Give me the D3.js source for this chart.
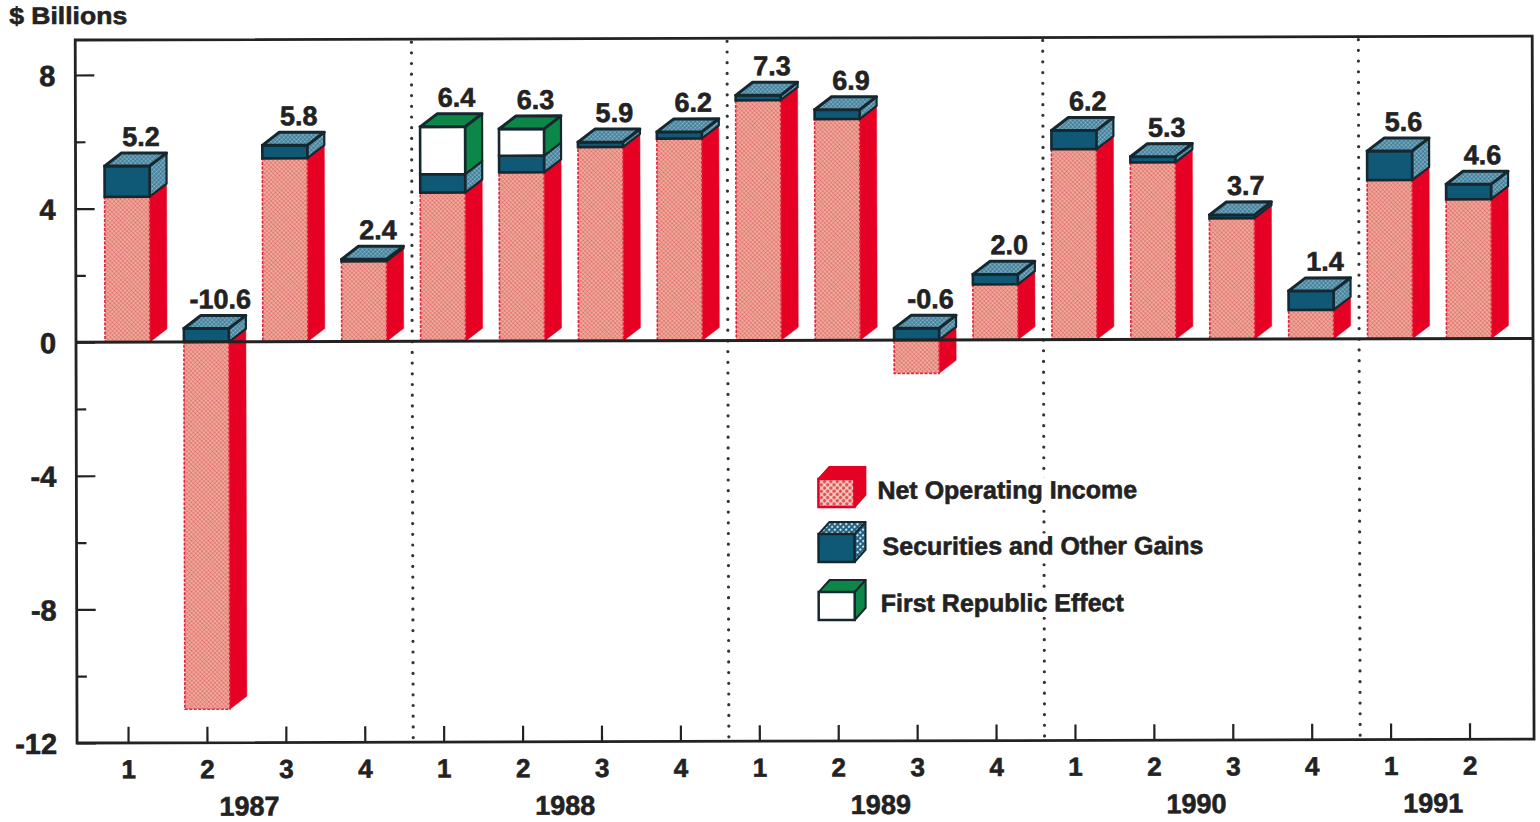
<!DOCTYPE html>
<html lang="en">
<head>
<meta charset="UTF-8">
<title>Net Income by Quarter</title>
<script src="https://d3js.org/d3.v7.min.js"></script>
<style>
    html, body { margin: 0; padding: 0; background: #fff; }
    svg { display: block; }
    text { font-family: "Liberation Sans", Arial, sans-serif; font-weight: bold; fill: #222; stroke: #222; stroke-width: 0.6px; }
    .tick text { font-family: "Liberation Sans", Arial, sans-serif; font-weight: bold; fill: #222; stroke: #222; stroke-width: 0.6px; }
    .tick line { stroke: #222; stroke-width: 2.2; }
    .legend-label { font-size: 25px; }
</style>
</head>
<body>
<div id="chart"></div>
<script>
// Values ($ billions)
const quarters = ["1987 1","1987 2","1987 3","1987 4","1988 1","1988 2","1988 3","1988 4","1989 1",
                  "1989 2","1989 3","1989 4","1990 1","1990 2","1990 3","1990 4","1991 1","1991 2"];
const netIncome     = [4.35,-11.0,5.49,2.4,4.45,5.05,5.8,6.05,7.19,6.62,-1.0,1.66,5.7,5.3,3.62,0.87,4.75,4.17];
const securities    = [0.92,0.4,0.39,0.06,0.55,0.5,0.15,0.2,0.15,0.28,0.35,0.3,0.56,0.17,0.1,0.57,0.87,0.45];
const firstRepublic = [0,0,0,0,1.42,0.8,0,0,0,0,0,0,0,0,0,0,0,0];
const totalLabels   = ["5.2","-10.6","5.8","2.4","6.4","6.3","5.9","6.2","7.3","6.9","-0.6","2.0","6.2","5.3","3.7","1.4","5.6","4.6"];
const years = ["1987","1988","1989","1990","1991"];
const yMajorTicks = [8,4,0,-4,-8,-12];
const yMinorTicks = [6,2,-2,-6,-10];
const legendLabels = ["Net Operating Income","Securities and Other Gains","First Republic Effect"];

const width = 1540, height = 822;
const frame = {left: 76, right: 1533, top: 40, bottom: 743};
const barWidth = 45, depthX = 17, depthY = 13;

const svg = d3.select("#chart").append("svg")
    .attr("width", width)
    .attr("height", height);

// Dither fills
const defs = svg.append("defs");
function dither(id, base, dot, size, r) {
    const p = defs.append("pattern")
        .attr("id", id)
        .attr("width", size).attr("height", size)
        .attr("patternUnits", "userSpaceOnUse")
        .attr("patternTransform", "rotate(45)");
    p.append("rect").attr("width", size).attr("height", size).attr("fill", base);
    p.append("circle").attr("cx", size / 2).attr("cy", size / 2).attr("r", r).attr("fill", dot);
}
dither("pink", "#f0b49a", "#df5f70", 3, 1.1);
dither("teal", "#3d7d98", "#9cc0d0", 3, 0.95);
dither("pinkLegend", "#f8d0c0", "#e0505c", 4.5, 1.7);
dither("tealLegend", "#1d5f80", "#d4e4ec", 4, 1.2);

const styles = {
    net:    {front: "url(#pink)", side: "#e60023", top: "#e60023", frontStroke: "#e8203a", edge: "#e60023"},
    sec:    {front: "#0f5876", side: "url(#teal)", top: "url(#teal)", frontStroke: "#16282f", edge: "#16282f"},
    first:  {front: "#ffffff", side: "#0c8748", top: "#0c8748", frontStroke: "#16282f", edge: "#16282f"}
};
const keys = ["net", "sec", "first"];

// The scan sits a touch crooked, so the whole chart is turned slightly
const g = svg.append("g").attr("transform", `rotate(-0.15 ${frame.left} 342)`);

const x = d3.scalePoint().domain(quarters).range([127, 1468.5]);
const y = d3.scaleLinear().domain([-12, 8]).range([frame.bottom, 75]);

const table = quarters.map((q, i) => ({quarter: q, net: netIncome[i], sec: securities[i], first: firstRepublic[i]}));
const series = d3.stack().keys(keys).offset(d3.stackOffsetDiverging)(table);

// Year dividers
const dividers = years.slice(1).map(yr => {
    const a = quarters.indexOf(yr + " 1");
    return (x(quarters[a - 1]) + x(quarters[a])) / 2 + 9;
});
g.selectAll(".divider").data(dividers).join("line")
    .attr("class", "divider")
    .attr("x1", d => d).attr("x2", d => d)
    .attr("y1", frame.top + 3).attr("y2", frame.bottom)
    .attr("stroke", "#333")
    .attr("stroke-width", 3.2)
    .attr("stroke-linecap", "round")
    .attr("stroke-dasharray", "0 10.7");

// Bars
const barG = g.selectAll(".bar").data(quarters).join("g").attr("class", "bar");
barG.each(function(q, i) {
    const bar = d3.select(this);
    const x0 = x(q) - 22, x1 = x0 + barWidth;
    const segs = series.map(s => ({key: s.key, y0: s[i][0], y1: s[i][1]}))
        .filter(s => s.y1 !== s.y0);
    segs.forEach(s => {
        const st = styles[s.key];
        const top = y(s.y1), bot = y(s.y0);
        bar.append("polygon")
            .attr("points", [[x1, top], [x1 + depthX, top - depthY], [x1 + depthX, bot - depthY], [x1, bot]].join(" "))
            .attr("fill", st.side)
            .attr("stroke", st.edge)
            .attr("stroke-width", s.key === "net" ? 0.5 : 2.2)
            .attr("stroke-linejoin", "round");
        bar.append("rect")
            .attr("x", x0).attr("y", top)
            .attr("width", barWidth).attr("height", bot - top)
            .attr("fill", st.front)
            .attr("stroke", st.frontStroke)
            .attr("stroke-width", s.key === "net" ? 1.6 : 2.6)
            .attr("stroke-dasharray", s.key === "net" ? "3 1.5" : null);
    });
    // top face belongs to the highest segment
    const high = segs.reduce((a, b) => (b.y1 > a.y1 ? b : a));
    const st = styles[high.key];
    const t = y(high.y1);
    bar.append("polygon")
        .attr("points", [[x0, t], [x0 + depthX, t - depthY], [x1 + depthX, t - depthY], [x1, t]].join(" "))
        .attr("fill", st.top)
        .attr("stroke", st.edge)
        .attr("stroke-width", 3)
        .attr("stroke-linejoin", "round");
    bar.append("text")
        .attr("x", x(q) + 14.5)
        .attr("y", t - depthY - 7)
        .attr("text-anchor", "middle")
        .attr("font-size", 27)
        .text(totalLabels[i]);
});

// Frame
g.append("rect")
    .attr("x", frame.left).attr("y", frame.top)
    .attr("width", frame.right - frame.left).attr("height", frame.bottom - frame.top)
    .attr("fill", "none")
    .attr("stroke", "#222")
    .attr("stroke-width", 2.8);

// Zero line
g.append("line")
    .attr("x1", frame.left).attr("x2", frame.right)
    .attr("y1", y(0)).attr("y2", y(0))
    .attr("stroke", "#222")
    .attr("stroke-width", 3);

// Axes
const yAxisMajor = d3.axisLeft(y).tickValues(yMajorTicks).tickSize(-19).tickPadding(20).tickFormat(d => String(d));
const yAxis = g.append("g").attr("transform", `translate(${frame.left},0)`).call(yAxisMajor);
yAxis.select(".domain").remove();
yAxis.selectAll("text").style("font-size", "29px").attr("dy", "0.36em");

const yAxisMinor = d3.axisLeft(y).tickValues(yMinorTicks).tickSize(-10).tickFormat("");
const yMinor = g.append("g").attr("transform", `translate(${frame.left},0)`).call(yAxisMinor);
yMinor.select(".domain").remove();

const xAxisBottom = d3.axisBottom(x).tickSize(-16).tickPadding(17).tickFormat(d => d.slice(-1));
const xAxis = g.append("g").attr("transform", `translate(0,${frame.bottom})`).call(xAxisBottom);
xAxis.select(".domain").remove();
xAxis.selectAll("text").style("font-size", "26px");

// Year labels, centred under their quarters
g.selectAll(".year").data(years).join("text")
    .attr("class", "year")
    .attr("x", yr => d3.mean(quarters.filter(q => q.startsWith(yr)), q => x(q)) + 3)
    .attr("y", 816)
    .attr("text-anchor", "middle")
    .attr("font-size", 27)
    .text(d => d);

g.append("text")
    .attr("x", 10).attr("y", 24)
    .attr("font-size", 24)
    .attr("textLength", 118)
    .attr("lengthAdjust", "spacingAndGlyphs")
    .text("$ Billions");

// Legend
const legendStyles = [
    {front: "url(#pinkLegend)", side: "#e60023", top: "#e60023", stroke: "#e60023", x: 877, y: 501},
    {front: "#0f5876", side: "url(#tealLegend)", top: "url(#tealLegend)", stroke: "#16282f", x: 882, y: 557},
    {front: "#ffffff", side: "#0c8748", top: "#0c8748", stroke: "#16282f", x: 880, y: 614}
];
const legendTop = [481, 536, 594];
legendLabels.forEach((label, i) => {
    const ls = legendStyles[i], x0 = 818, x1 = 854, t = legendTop[i], b = t + 28, dx = 11, dy = 12;
    const item = g.append("g");
    item.append("polygon")
        .attr("points", [[x1, t], [x1 + dx, t - dy], [x1 + dx, b - dy], [x1, b]].join(" "))
        .attr("fill", ls.side).attr("stroke", ls.stroke).attr("stroke-width", 2).attr("stroke-linejoin", "round");
    item.append("polygon")
        .attr("points", [[x0, t], [x0 + dx, t - dy], [x1 + dx, t - dy], [x1, t]].join(" "))
        .attr("fill", ls.top).attr("stroke", ls.stroke).attr("stroke-width", 2).attr("stroke-linejoin", "round");
    item.append("rect")
        .attr("x", x0).attr("y", t).attr("width", x1 - x0).attr("height", b - t)
        .attr("fill", ls.front).attr("stroke", ls.stroke).attr("stroke-width", 2.5);
    // white block keeps the dotted divider out of the words
    const knockout = item.append("rect").attr("fill", "#fff");
    const txt = item.append("text")
        .attr("class", "legend-label")
        .attr("x", ls.x).attr("y", ls.y)
        .text(label);
    const box = txt.node().getBBox();
    knockout.attr("x", box.x).attr("y", box.y + 2).attr("width", box.width).attr("height", box.height - 2);
});
</script>
</body>
</html>
